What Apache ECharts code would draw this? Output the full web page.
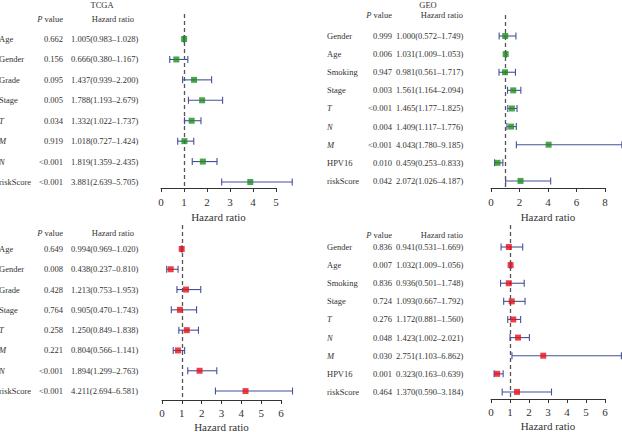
<!DOCTYPE html>
<html><head><meta charset="utf-8">
<script src="https://cdn.jsdelivr.net/npm/echarts@6/dist/echarts.min.js"></script>
<style>html,body{margin:0;padding:0;background:#fff}#c{width:622px;height:432px}</style>
</head><body><div id="c"></div>
<script>
// ---- data ----
const tcgaLabels = ['Age','Gender','Grade','Stage','T','M','N','riskScore'];
const tcgaUniP   = ['0.662','0.156','0.095','0.005','0.034','0.919','<0.001','<0.001'];
const tcgaUniHR  = [1.005,0.666,1.437,1.788,1.332,1.018,1.819,3.881];
const tcgaUniLo  = [0.983,0.380,0.939,1.193,1.022,0.727,1.359,2.639];
const tcgaUniHi  = [1.028,1.167,2.200,2.679,1.737,1.424,2.435,5.705];

const tcgaMulP   = ['0.649','0.008','0.428','0.764','0.258','0.221','<0.001','<0.001'];
const tcgaMulHR  = [0.994,0.438,1.213,0.905,1.250,0.804,1.894,4.211];
const tcgaMulLo  = [0.969,0.237,0.753,0.470,0.849,0.566,1.299,2.694];
const tcgaMulHi  = [1.020,0.810,1.953,1.743,1.838,1.141,2.763,6.581];

const geoLabels  = ['Gender','Age','Smoking','Stage','T','N','M','HPV16','riskScore'];
const geoUniP    = ['0.999','0.006','0.947','0.003','<0.001','0.004','<0.001','0.010','0.042'];
const geoUniHR   = [1.000,1.031,0.981,1.561,1.465,1.409,4.043,0.459,2.072];
const geoUniLo   = [0.572,1.009,0.561,1.164,1.177,1.117,1.780,0.253,1.026];
const geoUniHi   = [1.749,1.053,1.717,2.094,1.825,1.776,9.185,0.833,4.187];

const geoMulP    = ['0.836','0.007','0.836','0.724','0.276','0.048','0.030','0.001','0.464'];
const geoMulHR   = [0.941,1.032,0.936,1.093,1.172,1.423,2.751,0.323,1.370];
const geoMulLo   = [0.531,1.009,0.501,0.667,0.881,1.002,1.103,0.163,0.590];
const geoMulHi   = [1.669,1.056,1.748,1.792,1.560,2.021,6.862,0.639,3.184];

const ticksTcgaUni = [0,1,2,3,4,5];
const ticksGeoUni  = [0,2,4,6,8];
const ticksTcgaMul = [0,1,2,3,4,5,6];
const ticksGeoMul  = [0,1,2,3,4,5,6];
const axisTitle = 'Hazard ratio';

// ---- styling ----
const FONT = 'Liberation Serif';
const TXT = '#333';
const CI_COLOR = '#45509a';
const GREEN = '#1f8d1f';
const RED = '#e5121b';
const italicSet = {T:1, M:1, N:1};

const panels = [
  {labels:tcgaLabels, p:tcgaUniP, hr:tcgaUniHR, lo:tcgaUniLo, hi:tcgaUniHi, color:GREEN, ticks:ticksTcgaUni,
   grid:{left:161, top:14, width:115, height:174}, xMax:5, xInt:1, yMin:-1.225, yMax:7.294,
   labX:-1, pR:63, hrL:71, hrR:134, headY:19, title:'TCGA', titleX:102, tickOff:8, nameOff:23},
  {labels:geoLabels, p:geoUniP, hr:geoUniHR, lo:geoUniLo, hi:geoUniHi, color:GREEN, ticks:ticksGeoUni,
   grid:{left:491, top:15, width:114, height:173}, xMax:8, xInt:2, yMin:-1.16, yMax:8.39,
   labX:327, pR:392, hrL:396, hrR:463, headY:15, title:'GEO', titleX:428, tickOff:8, nameOff:23},
  {labels:tcgaLabels, p:tcgaMulP, hr:tcgaMulHR, lo:tcgaMulLo, hi:tcgaMulHi, color:RED, ticks:ticksTcgaMul,
   grid:{left:162, top:225, width:119, height:175}, xMax:6, xInt:1, yMin:-1.18, yMax:7.44,
   labX:-1, pR:63, hrL:71, hrR:134, headY:233, tickOff:7, nameOff:21},
  {labels:geoLabels, p:geoMulP, hr:geoMulHR, lo:geoMulLo, hi:geoMulHi, color:RED, ticks:ticksGeoMul,
   grid:{left:491, top:225, width:114, height:174}, xMax:6, xInt:1, yMin:-1.215, yMax:8.39,
   labX:327, pR:392, hrL:396, hrR:463, headY:235, tickOff:7, nameOff:21}
];

const grid = [], xAxis = [], yAxis = [], series = [], graphic = [];
panels.forEach((P, k) => {
  grid.push(Object.assign({containLabel:false}, P.grid));
  xAxis.push({type:'value', gridIndex:k, min:0, max:P.xMax, interval:P.xInt,
    axisLine:{show:true, onZero:false, lineStyle:{color:'#333', width:1}},
    axisTick:{show:true, length:4, lineStyle:{color:'#333'}},
    axisLabel:{show:false},
    splitLine:{show:false}});
  yAxis.push({type:'value', gridIndex:k, inverse:true, min:P.yMin, max:P.yMax, show:false});

  const rows = P.labels.map((l, i) => i);
  // CI bars
  series.push({type:'custom', xAxisIndex:k, yAxisIndex:k, clip:false, z:2,
    data: rows.map(i => [P.lo[i], i, P.hi[i]]),
    renderItem: (params, api) => {
      const a = api.coord([api.value(0), api.value(1)]);
      const b = api.coord([api.value(2), api.value(1)]);
      const h = 3.5;
      const st = {stroke:CI_COLOR, lineWidth:1.1};
      return {type:'group', children:[
        {type:'line', shape:{x1:a[0], y1:a[1], x2:b[0], y2:b[1]}, style:st},
        {type:'line', shape:{x1:a[0], y1:a[1]-h, x2:a[0], y2:a[1]+h}, style:st},
        {type:'line', shape:{x1:b[0], y1:b[1]-h, x2:b[0], y2:b[1]+h}, style:st}
      ]};
    }});
  // point estimates + reference line
  series.push({type:'scatter', xAxisIndex:k, yAxisIndex:k, z:3, symbol:'rect', symbolSize:6,
    itemStyle:{color:P.color}, data: rows.map(i => [P.hr[i], i]),
    markLine:{silent:true, symbol:'none', label:{show:false}, z:1,
      lineStyle:{color:'#555', type:[4,3], width:1.3},
      data:[{xAxis:1}]}});
  // table text
  series.push({type:'custom', xAxisIndex:k, yAxisIndex:k, clip:false, silent:true,
    data: rows.map(i => [0, i]),
    renderItem: (params, api) => {
      const i = api.value(1);
      const y = api.coord([0, i])[1];
      const base = {fontFamily:FONT, fontSize:8.5, fill:TXT, verticalAlign:'middle'};
      const lab = P.labels[i];
      const hrTxt = P.hr[i].toFixed(3) + '(' + P.lo[i].toFixed(3) + '\u2013' + P.hi[i].toFixed(3) + ')';
      return {type:'group', children:[
        {type:'text', style:Object.assign({}, base, {x:P.labX, y:y, text:lab, align:'left',
          fontStyle: italicSet[lab] ? 'italic' : 'normal'})},
        {type:'text', style:Object.assign({}, base, {x:P.pR, y:y, text:P.p[i], align:'right'})},
        {type:'text', style:Object.assign({}, base, {x:P.hrL, y:y, text:hrTxt, align:'left'})}
      ]};
    }});
  // tick labels + axis title, positioned through the axis scale
  series.push({type:'custom', xAxisIndex:k, yAxisIndex:k, clip:false, silent:true,
    data: P.ticks.map(v => [v, P.yMax]),
    renderItem: (params, api) => {
      const c = api.coord([api.value(0), api.value(1)]);
      const kids = [{type:'text', style:{x:c[0], y:c[1] + P.tickOff, text:String(api.value(0)),
        align:'center', verticalAlign:'top', fontFamily:FONT, fontSize:11, fill:TXT}}];
      if (params.dataIndex === 0) {
        const l = api.coord([0, P.yMax]), r = api.coord([P.xMax, P.yMax]);
        kids.push({type:'text', style:{x:(l[0] + r[0]) / 2, y:c[1] + P.nameOff, text:axisTitle,
          align:'center', verticalAlign:'top', fontFamily:FONT, fontSize:11, fill:TXT}});
      }
      return {type:'group', children:kids};
    }});
  // headers
  graphic.push({type:'text', x:P.pR, y:P.headY, style:{text:'{i|P} value', align:'right',
    verticalAlign:'middle', fontFamily:FONT, fontSize:8.5, fill:TXT,
    rich:{i:{fontStyle:'italic', fontFamily:FONT, fontSize:8.5, fill:TXT}}}});
  graphic.push({type:'text', x:P.hrR, y:P.headY, style:{text:'Hazard ratio', align:'right',
    verticalAlign:'middle', fontFamily:FONT, fontSize:8.5, fill:TXT}});
  if (P.title) {
    graphic.push({type:'text', x:P.titleX, y:5, style:{text:P.title, align:'center',
      verticalAlign:'middle', fontFamily:FONT, fontSize:8.5, fill:TXT}});
  }
});

const chart = echarts.init(document.getElementById('c'), null, {renderer:'svg'});
chart.setOption({animation:false, backgroundColor:'#fff',
  grid, xAxis, yAxis, series, graphic});
</script></body></html>
